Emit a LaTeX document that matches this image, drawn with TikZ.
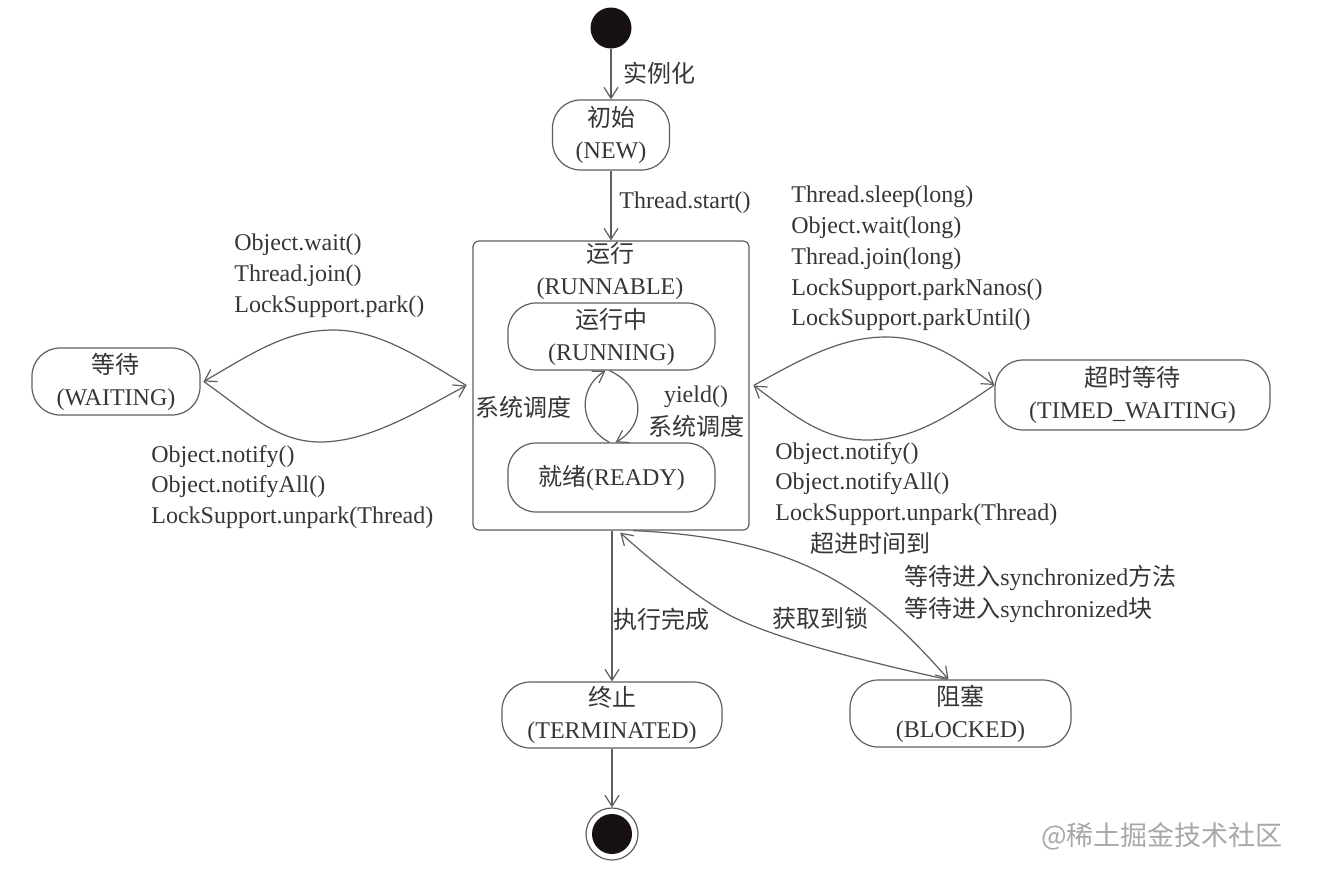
\documentclass[tikz,border=0pt]{standalone}
\usepackage{fontspec}
\setmainfont{Liberation Serif}
\newfontfamily\cjk{Noto Sans CJK SC}
\usetikzlibrary{arrows.meta}
\definecolor{ink}{HTML}{363636}
\definecolor{dot}{HTML}{171111}
\definecolor{linec}{HTML}{5E5E5E}
\definecolor{wm}{HTML}{A8A8A8}
\newcommand{\zh}[1]{{\cjk #1}}
\begin{document}
\begin{tikzpicture}[x=0.5pt,y=-0.5pt,
  every node/.style={text=ink},
  state/.style={draw=linec, line width=0.6pt, rectangle, rounded corners=14pt, align=center, inner sep=0pt, font=\fontsize{12}{16}\selectfont},
  lbl/.style={font=\fontsize{12}{15.4}\selectfont, inner sep=0pt},
  blk/.style={lbl, align=left, anchor=west},
  arr/.style={draw=linec, line width=0.6pt, -{Straight Barb[length=5.5pt,width=7pt]}},
]
\useasboundingbox (0,0) rectangle (1344,885);
\fill[white] (0,0) rectangle (1344,885);

% states
\node[circle, fill=dot, draw=none, minimum size=20.5pt, inner sep=0pt] (start) at (611,28) {};
\node[state, minimum width=58.5pt, minimum height=35pt] (new) at (611,135) {\zh{初始}\\(NEW)};
\node[draw=linec, line width=0.6pt, rectangle, rounded corners=3pt, minimum width=138pt, minimum height=144.5pt, inner sep=0pt] (runnable) at (611,385.5) {};
\node[lbl, align=center, font=\fontsize{12}{16}\selectfont] (runlabel) at (610,270.5) {\zh{运行}\\(RUNNABLE)};
\node[state, minimum width=103.5pt, minimum height=33.5pt] (running) at (611.5,336.5) {\zh{运行中}\\(RUNNING)};
\node[state, minimum width=103.5pt, minimum height=34.5pt] (ready) at (611.5,477.5) {\zh{就绪}(READY)};
\node[state, minimum width=84pt, minimum height=33.5pt] (wait) at (116,381.5) {\zh{等待}\\(WAITING)};
\node[state, minimum width=137.5pt, minimum height=35pt] (timed) at (1132.5,395) {\zh{超时等待}\\(TIMED\_WAITING)};
\node[state, minimum width=110pt, minimum height=33pt] (term) at (612,715) {\zh{终止}\\(TERMINATED)};
\node[state, minimum width=110.5pt, minimum height=33.5pt] (blocked) at (960.5,713.5) {\zh{阻塞}\\(BLOCKED)};
\node[circle, draw=linec, line width=0.6pt, minimum size=26pt, inner sep=0pt] (end) at (612,834) {};
\node[circle, fill=dot, draw=none, minimum size=20pt, inner sep=0pt] (endin) at (end.center) {};

% straight connectors
\draw[arr] (start.south) -- (new.north);
\draw[arr] (new.south) -- (new.south |- runnable.north);
\draw[arr] (term.north |- runnable.south) -- (term.north);
\draw[arr] (term.south) -- (end.north);

% running <-> ready loop
\draw[arr] ([xshift=-1pt]ready.north) .. controls (578,425) and (578,388) .. ([xshift=-3pt]running.south);
\draw[arr] ([xshift=-1pt]running.south) .. controls (646,388) and (646,425) .. ([xshift=2pt]ready.north);

% runnable <-> waiting
\draw[arr] ([xshift=-3pt]runnable.west) .. controls (420,358) and (380,330) .. (333,330) .. controls (285,330) and (250,355) .. ([xshift=1.5pt]wait.east);
\draw[arr] ([xshift=1.5pt]wait.east) .. controls (245,410) and (275,442) .. (320,442) .. controls (370,442) and (420,410) .. ([xshift=-3pt]runnable.west);

% runnable <-> timed waiting
\draw[arr] ([xshift=2pt]runnable.east) .. controls (800,360) and (840,337) .. (886,337) .. controls (932,337) and (962,362) .. ([yshift=5pt]timed.west);
\draw[arr] ([yshift=5pt]timed.west) .. controls (950,415) and (915,440) .. (867,440) .. controls (820,440) and (790,412) .. ([xshift=2pt]runnable.east);

% runnable <-> blocked
\draw[arr] ([xshift=11pt]runnable.south) .. controls (800,538) and (870,590) .. ([xshift=-6pt]blocked.north);
\draw[arr, shorten >=1.5pt] ([xshift=-7pt]blocked.north) .. controls (860,660) and (780,640) .. (733,617) .. controls (700,600) and (650,560) .. ([xshift=3.5pt]runnable.south);

% labels
\node[lbl, anchor=west] (lnew) at (623,73) {\zh{实例化}};
\node[lbl, anchor=west] (lstart) at (619,203) {Thread.start()};
\node[blk] (lwait) at (234,275.5) {Object.wait()\\Thread.join()\\LockSupport.park()};
\node[blk] (lnotify) at (151,487) {Object.notify()\\Object.notifyAll()\\LockSupport.unpark(Thread)};
\node[blk] (ltimed) at (791,258.6) {Thread.sleep(long)\\Object.wait(long)\\Thread.join(long)\\LockSupport.parkNanos()\\LockSupport.parkUntil()};
\node[blk] (lnotify2) at (775,484) {Object.notify()\\Object.notifyAll()\\LockSupport.unpark(Thread)};
\node[lbl] (lsched) at (523,407) {\zh{系统调度}};
\node[lbl, align=center, font=\fontsize{12}{16.5}\selectfont] (lyield) at (696,411.5) {yield()\\\zh{系统调度}};
\node[lbl] (ltimeout) at (870,543) {\zh{超进时间到}};
\node[blk, font=\fontsize{12}{16}\selectfont] (lsync) at (904,594) {\zh{等待进入}synchronized\zh{方法}\\\zh{等待进入}synchronized\zh{块}};
\node[lbl] (llock) at (820,618) {\zh{获取到锁}};
\node[lbl] (ldone) at (661,619) {\zh{执行完成}};
\node[text=wm, inner sep=0pt, font=\cjk\fontsize{13.5}{16}\selectfont] (wmark) at (1162,836) {@稀土掘金技术社区};
\end{tikzpicture}
\end{document}
